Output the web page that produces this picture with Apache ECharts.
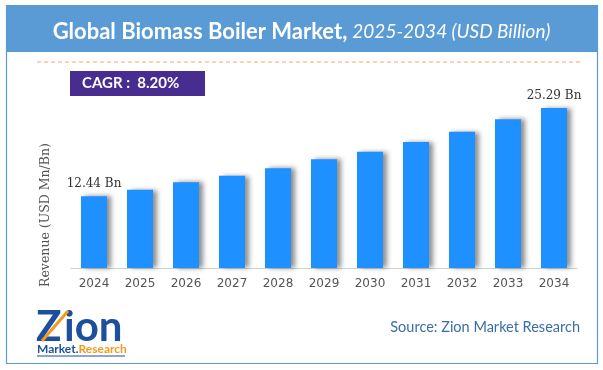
<!DOCTYPE html>
<html>
<head>
<meta charset="utf-8">
<script src="https://cdn.jsdelivr.net/npm/echarts@6/dist/echarts.min.js"></script>
<style>html,body{margin:0;padding:0;background:#fff;}#c{width:603px;height:370px;}</style>
</head>
<body>
<div id="c"></div>
<script>
const categories = ['2024','2025','2026','2027','2028','2029','2030','2031','2032','2033','2034'];
const values = [12.44, 13.39, 14.47, 15.43, 16.51, 17.82, 18.92, 20.34, 21.83, 23.64, 25.29];
const labelled = ['2024','2034'];
const titleMain = 'Global Biomass Boiler Market,';
const titleSub = '2025-2034 (USD Billion)';
const cagrText = 'CAGR :  8.20%';
const yName = 'Revenue (USD Mn/Bn)';
const sourceText = 'Source: Zion Market Research';

const chart = echarts.init(document.getElementById('c'), null, {renderer:'canvas'});
chart.setOption({
  animation: false,
  backgroundColor: '#fff',
  title: {
    text: '{b|' + titleMain + '} {i|' + titleSub + '}',
    left: 'center', top: 16,
    textStyle: {
      rich: {
        b: {fontFamily: 'Lato', fontWeight: 'bold', fontSize: 22, color: '#fff'},
        i: {fontFamily: 'Lato', fontStyle: 'italic', fontWeight: 'normal', fontSize: 19, color: '#fff'}
      }
    }
  },
  grid: {left: 71, right: 26, top: 103, bottom: 102},
  xAxis: {
    type: 'category', data: categories,
    axisLine: {lineStyle: {color: '#d0d0d0'}},
    axisTick: {show: false},
    axisLabel: {color: '#555', fontFamily: 'DejaVu Sans', fontSize: 12, margin: 10}
  },
  yAxis: {
    type: 'value', min: 2, max: 26,
    show: false, splitLine: {show: false}
  },
  series: [{
    type: 'bar', barWidth: 26,
    data: values.map((v, i) => ({
      value: v,
      label: {show: labelled.includes(categories[i])}
    })),
    itemStyle: {
      color: '#1e90ff',
      shadowColor: 'rgba(0,0,0,0.45)', shadowBlur: 5, shadowOffsetX: 4, shadowOffsetY: 0
    },
    label: {
      position: 'top', distance: 6,
      formatter: p => p.value.toFixed(2) + ' Bn',
      fontFamily: 'DejaVu Serif', fontSize: 12, color: '#333'
    }
  }],
  graphic: [
    {type: 'rect', shape: {x: 6, y: 5, width: 592, height: 47}, style: {fill: '#5b9bd5'}, z: -1},
    {type: 'rect', shape: {x: 6.5, y: 5.5, width: 591, height: 358}, style: {fill: null, stroke: '#5b9bd5', lineWidth: 1.2}, z: -1},
    {type: 'line', shape: {x1: 37, y1: 62, x2: 582, y2: 62}, style: {stroke: '#f4a57a', lineWidth: 1.2, lineDash: [4, 3]}},
    {type: 'rect', shape: {x: 70, y: 71, width: 135, height: 25}, style: {fill: '#482d91'}},
    {type: 'text', x: 82, y: 83.5, style: {text: cagrText, fill: '#fff', font: 'bold 15px Lato', textVerticalAlign: 'middle'}},
    {type: 'text', x: 46, y: 215, rotation: Math.PI / 2,
      style: {text: yName, fill: '#555', font: '12.5px "DejaVu Serif"', textAlign: 'center', textVerticalAlign: 'middle'}},
    {type: 'text', x: 580, y: 327, style: {text: sourceText, fill: '#3a6ea8', font: '14.5px Lato', textAlign: 'right', textVerticalAlign: 'middle'}},
    {type: 'text', x: 36, y: 327,
      style: {text: 'Z', fill: '#1c4f9c', font: 'bold 42px Lato', textVerticalAlign: 'middle'}},
    {type: 'text', x: 64, y: 327,
      style: {text: 'ion', fill: '#1c4f9c', font: 'bold 42px Lato', textVerticalAlign: 'middle'}},
    {type: 'line', shape: {x1: 42, y1: 341, x2: 68, y2: 311}, style: {stroke: '#f39a1e', lineWidth: 3}},
    {type: 'text', x: 37, y: 349,
      style: {text: '{m|Market.}{r|Research}', textVerticalAlign: 'middle',
        rich: {m: {fill: '#1c4f9c', font: 'bold 12px Lato'}, r: {fill: '#f39a1e', font: 'bold 12px Lato'}}}},
    {type: 'line', shape: {x1: 37, y1: 356, x2: 125, y2: 356}, style: {stroke: '#1c4f9c', lineWidth: 1}}
  ]
});
</script>
</body>
</html>
